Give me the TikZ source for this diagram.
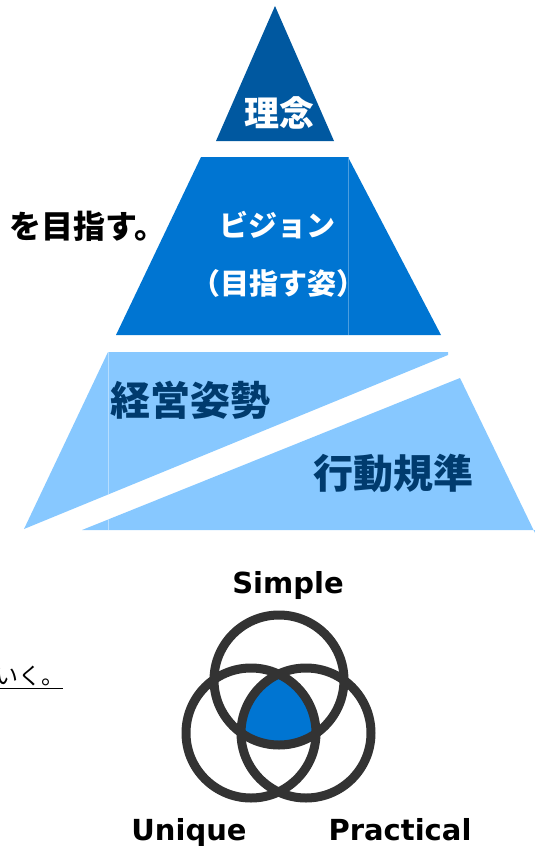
\documentclass[tikz,border=0pt]{standalone}
\usepackage{fontspec}
\setmainfont{DejaVu Sans}
\newfontfamily\jpfont{Noto Sans CJK JP}
\usetikzlibrary{positioning}

\definecolor{rinenblue}{RGB}{0,88,160}
\definecolor{visionblue}{RGB}{0,117,210}
\definecolor{policyblue}{RGB}{135,200,255}
\definecolor{navytext}{RGB}{0,59,110}
\definecolor{ringgray}{RGB}{51,51,51}

\tikzset{
  tierlabel/.style={font=\jpfont\bfseries\fontsize{29}{32}\selectfont, text=white},
  policylabel/.style={font=\jpfont\bfseries\fontsize{40}{44}\selectfont, text=navytext},
  venntag/.style={font=\bfseries\fontsize{29}{32}\selectfont, text=black, anchor=base},
  ring/.style={draw=ringgray, line width=9pt},
}

\begin{document}
\begin{tikzpicture}[x=1pt, y=-1pt, every node/.style={inner sep=0pt, outer sep=0pt}]
    \useasboundingbox (0,0) rectangle (535,846);

    % pyramid, top to bottom
    \fill[rinenblue] (275,6) -- (334,141) -- (216,141) -- cycle;
    \node[tierlabel, font=\jpfont\bfseries\fontsize{35}{40}\selectfont] (rinen) at (279,113) {理念};

    \fill[visionblue] (201,157) -- (348,157) -- (441,335) -- (116,335) -- cycle;
    \draw[visionblue!70!white, line width=0.6pt] (348,157) -- (348,335);
    \node[tierlabel] (vision) at (277,225) {ビジョン};
    \node[tierlabel] (visionsub) at (278,283) {（目指す姿）};

    % bottom tier split by a white band
    \fill[policyblue] (108,352) -- (448,352) -- (448,355) -- (24,529) -- cycle;
    \fill[policyblue] (460,378) -- (535,533) -- (535,530) -- (82,530) -- cycle;
    \draw[policyblue!60!white, line width=0.6pt] (108,352) -- (108,494);
    \draw[policyblue!60!white, line width=0.6pt] (108,519) -- (108,530);
    \node[policylabel] (keiei) at (190,400) {経営姿勢};
    \node[policylabel] (kodo) at (393,473) {行動規準};

    % texts cut at the left edge
    \node[font=\jpfont\bfseries\fontsize{32}{36}\selectfont] (mezasu) at (88,226) {を目指す。};
    \node[font=\jpfont\fontsize{23}{26}\selectfont, anchor=base west] (iku) at (-5,684) {いく。};
    \draw[line width=1pt] (0,688) -- (63,688);

    % three values
    \coordinate (simplec) at (279,680);
    \coordinate (uniquec) at (251,733);
    \coordinate (practc) at (306,733);
    \begin{scope}
      \clip (simplec) circle (65);
      \clip (uniquec) circle (65);
      \fill[visionblue] (practc) circle (65);
    \end{scope}
    \draw[ring] (simplec) circle (65);
    \draw[ring] (uniquec) circle (65);
    \draw[ring] (practc) circle (65);

    \node[venntag] (simple) at (288,593) {Simple};
    \node[venntag] (unique) at (189,840) {Unique};
    \node[venntag] (practical) at (400,840) {Practical};
\end{tikzpicture}
\end{document}
